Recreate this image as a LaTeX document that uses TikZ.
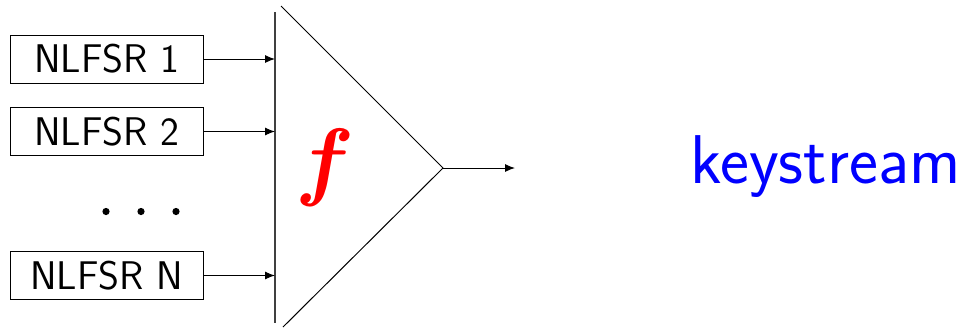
\documentclass[tikz,border=0pt]{standalone}
\usepackage{amsmath,amssymb,graphicx,tikz}
\usetikzlibrary{arrows.meta}
\tikzset{reg/.style={draw,line width=.5pt,minimum width=96.5pt,minimum height=24pt,inner sep=0pt,font=\sffamily\fontsize{20}{22}\selectfont},
  feed/.style={line width=.5pt,-{Latex[length=5pt,width=4pt]}}}
\begin{document}
\begin{tikzpicture}[x=.5pt,y=-.5pt]
\useasboundingbox (0,0) rectangle (961,328);
\node[reg] (r1) at (106.5,59) {NLFSR 1};\node[reg] (r2) at (106.5,131.5) {NLFSR 2};
\node[reg] (rn) at (106.5,275.5) {NLFSR N};
\foreach \x in {106,141,176} \fill (\x,211.5) circle (3.6);
% combiner bar and triangle
\coordinate (bt) at (275,12);\coordinate (bb) at (275,323);\draw[line width=.6pt,black!75] (bt)--(bb);
\coordinate (tt) at (281,6);\coordinate (tip) at (443,168);\coordinate (tb) at (283,327);
\draw[line width=.5pt] (tt)--(tip)--(tb);
\draw[feed] (r1.east)--(r1.east-|bt);\draw[feed] (r2.east)--(r2.east-|bt);\draw[feed] (rn.east)--(rn.east-|bt);
\node[text=red,inner sep=0pt] (f) at (325,168) {\scalebox{1.75}{\fontsize{24.88}{28}\selectfont$\boldsymbol{f}$}};
\coordinate (out) at (515,168);\draw[feed] (tip)--(out);
\node[anchor=base west,inner sep=0pt,text=blue,font=\sffamily\fontsize{34.5}{38}\selectfont] (ks) at (690,183) {keystream};
\end{tikzpicture}
\end{document}
